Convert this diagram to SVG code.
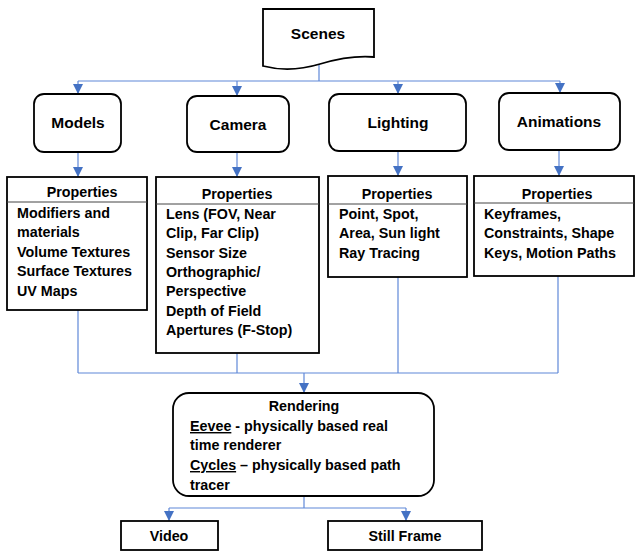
<svg xmlns="http://www.w3.org/2000/svg" width="636" height="551" viewBox="0 0 636 551">
<style>
  .box{fill:#fff;stroke:#000;stroke-width:1.8}
  .sep{stroke:#444;stroke-width:1}
  .h{font-family:"Liberation Sans",Arial,sans-serif;font-weight:bold;font-size:15.5px;fill:#000;text-anchor:middle}
  .p{font-family:"Liberation Sans",Arial,sans-serif;font-weight:bold;font-size:14.3px;fill:#000;text-anchor:middle}
  .t{font-family:"Liberation Sans",Arial,sans-serif;font-weight:bold;font-size:14.3px;fill:#000}
  .u{text-decoration:underline}
  .c{fill:none;stroke:#5f88d8;stroke-width:1.2}
</style>
<defs>
  <marker id="arr" markerUnits="userSpaceOnUse" markerWidth="12" markerHeight="10" refX="10" refY="5" orient="auto">
    <path d="M0,0 L10,5 L0,10 z" fill="#4472C4"/>
  </marker>
</defs>
<rect width="636" height="551" fill="#fff"/>
<g id="connectors">
  <path class="c" d="M319,64 V81"/>
  <path class="c" d="M78,81 H560"/>
  <path class="c" d="M78,81 V94" marker-end="url(#arr)"/>
  <path class="c" d="M237,81 V96" marker-end="url(#arr)"/>
  <path class="c" d="M398,81 V94" marker-end="url(#arr)"/>
  <path class="c" d="M560,81 V93" marker-end="url(#arr)"/>
  <path class="c" d="M78,152 V177" marker-end="url(#arr)"/>
  <path class="c" d="M237,152 V177" marker-end="url(#arr)"/>
  <path class="c" d="M398,151 V176" marker-end="url(#arr)"/>
  <path class="c" d="M559,150 V176" marker-end="url(#arr)"/>
  <path class="c" d="M78,310 V373"/>
  <path class="c" d="M237,353 V373"/>
  <path class="c" d="M398,277 V373"/>
  <path class="c" d="M558,276 V373"/>
  <path class="c" d="M78,373 H558"/>
  <path class="c" d="M304,373 V393" marker-end="url(#arr)"/>
  <path class="c" d="M304,496 V508"/>
  <path class="c" d="M169,508 H406"/>
  <path class="c" d="M169,508 V521" marker-end="url(#arr)"/>
  <path class="c" d="M406,508 V521" marker-end="url(#arr)"/>
</g>
<g id="scenes">
  <path class="box" d="M263,9 H374 V57 Q350,55 320,64 Q290,73 263,66 Z"/>
  <text class="h" x="318" y="39">Scenes</text>
</g>
<g id="models">
  <rect class="box" x="34" y="94" width="87" height="58" rx="10"/>
  <text class="h" x="78" y="128">Models</text>
</g>
<g id="camera">
  <rect class="box" x="187" y="96" width="102" height="56" rx="10"/>
  <text class="h" x="238" y="130">Camera</text>
</g>
<g id="lighting">
  <rect class="box" x="329" y="94" width="137" height="57" rx="10"/>
  <text class="h" x="398" y="128">Lighting</text>
</g>
<g id="animations">
  <rect class="box" x="499" y="93" width="121" height="57" rx="10"/>
  <text class="h" x="559" y="127">Animations</text>
</g>
<g id="models-props">
  <rect class="box" x="7" y="177" width="140" height="133"/>
  <line class="sep" x1="7" y1="202" x2="147" y2="202"/>
  <text class="p" x="82" y="197">Properties</text>
  <text class="t" x="17" y="218">Modifiers and</text>
  <text class="t" x="17" y="237">materials</text>
  <text class="t" x="17" y="257">Volume Textures</text>
  <text class="t" x="17" y="276">Surface Textures</text>
  <text class="t" x="17" y="296">UV Maps</text>
</g>
<g id="camera-props">
  <rect class="box" x="156" y="177" width="163" height="176"/>
  <line class="sep" x1="156" y1="204" x2="319" y2="204"/>
  <text class="p" x="237" y="199">Properties</text>
  <text class="t" x="166" y="219">Lens (FOV, Near</text>
  <text class="t" x="166" y="238">Clip, Far Clip)</text>
  <text class="t" x="166" y="258">Sensor Size</text>
  <text class="t" x="166" y="277">Orthographic/</text>
  <text class="t" x="166" y="296">Perspective</text>
  <text class="t" x="166" y="316">Depth of Field</text>
  <text class="t" x="166" y="335">Apertures (F-Stop)</text>
</g>
<g id="lighting-props">
  <rect class="box" x="328" y="176" width="139" height="101"/>
  <line class="sep" x1="328" y1="204" x2="467" y2="204"/>
  <text class="p" x="397" y="199">Properties</text>
  <text class="t" x="339" y="219">Point, Spot,</text>
  <text class="t" x="339" y="238">Area, Sun light</text>
  <text class="t" x="339" y="258">Ray Tracing</text>
</g>
<g id="animations-props">
  <rect class="box" x="474" y="176" width="160" height="100"/>
  <line class="sep" x1="474" y1="203" x2="634" y2="203"/>
  <text class="p" x="557" y="199">Properties</text>
  <text class="t" x="484" y="219">Keyframes,</text>
  <text class="t" x="484" y="238">Constraints, Shape</text>
  <text class="t" x="484" y="258">Keys, Motion Paths</text>
</g>
<g id="rendering">
  <rect class="box" x="173" y="393" width="261" height="103" rx="16"/>
  <text class="p" x="304" y="411">Rendering</text>
  <text class="t" x="190" y="431"><tspan class="u">Eevee</tspan> - physically based real</text>
  <text class="t" x="190" y="450">time renderer</text>
  <text class="t" x="190" y="470"><tspan class="u">Cycles</tspan> – physically based path</text>
  <text class="t" x="190" y="490">tracer</text>
</g>
<g id="video">
  <rect class="box" x="121" y="521" width="97" height="29"/>
  <text class="p" x="169" y="541">Video</text>
</g>
<g id="still-frame">
  <rect class="box" x="328" y="521" width="154" height="29"/>
  <text class="p" x="405" y="541">Still Frame</text>
</g>
</svg>
